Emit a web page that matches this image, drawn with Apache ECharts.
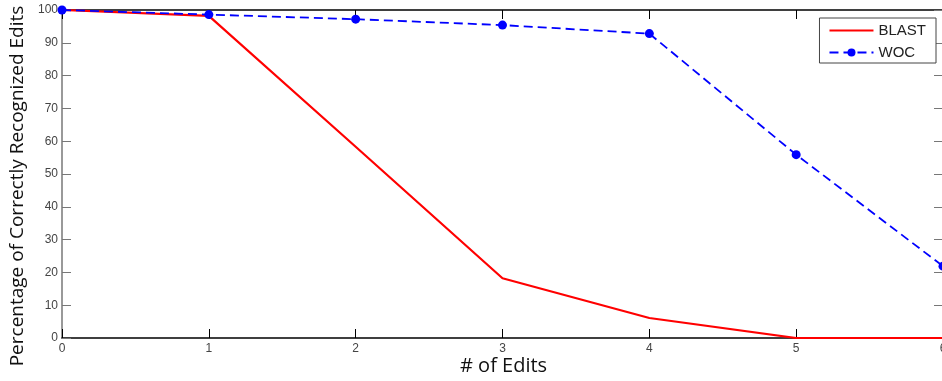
<!DOCTYPE html>
<html><head><meta charset="utf-8">
<script src="https://cdn.jsdelivr.net/npm/echarts@6/dist/echarts.min.js"></script>
<style>html,body{margin:0;padding:0;background:#fff}#c{width:942px;height:381px}</style>
</head><body><div id="c"></div>
<script>
const edits = [0, 1, 2, 3, 4, 5, 6];
const blast = [100, 98.2, 58.3, 18.2, 6.1, 0, 0];
const woc = [100, 98.6, 97.2, 95.4, 92.8, 55.9, 21.9];
const xTitle = '# of Edits';
const yTitle = 'Percentage of Correctly Recognized Edits';

const chart = echarts.init(document.getElementById('c'));
const labelFont = {color: '#444', fontFamily: 'Liberation Sans, Arial', fontSize: 12};
chart.setOption({
  animation: false,
  grid: {left: 62, top: 10, width: 881, height: 328, containLabel: false, outerBoundsMode: 'none'},
  legend: {
    right: 6, top: 18, orient: 'vertical', itemWidth: 44, itemHeight: 10, itemGap: 7,
    padding: [5, 10, 3, 9], borderColor: '#444', borderWidth: 1, backgroundColor: '#fff',
    textStyle: {fontFamily: 'Liberation Sans, Arial', fontSize: 15, color: '#222'},
    data: [{name: 'BLAST', itemStyle: {opacity: 0}}, {name: 'WOC'}]
  },
  graphic: [{
    type: 'text', left: 460, top: 356,
    style: {text: xTitle, font: '20px "Open Sans", "Noto Sans"', fill: '#111'}
  }, {
    type: 'text', x: 8, y: 186, rotation: Math.PI / 2,
    style: {text: yTitle, font: '19px "Open Sans", "Noto Sans"', fill: '#111', textAlign: 'center', textVerticalAlign: 'top'}
  }],
  xAxis: [{
    type: 'value', min: 0, max: 6, interval: 1, position: 'bottom',
    axisLine: {show: true, onZero: false, lineStyle: {color: '#000', width: 1.5}},
    axisTick: {show: true, inside: true, length: 9, lineStyle: {color: '#000'}},
    axisLabel: Object.assign({margin: 5}, labelFont),
    splitLine: {show: false}
  }, {
    type: 'value', min: 0, max: 6, interval: 1, position: 'top',
    axisLine: {show: true, onZero: false, lineStyle: {color: '#000', width: 1.5}},
    axisTick: {show: true, inside: true, length: 9, lineStyle: {color: '#000'}},
    axisLabel: {show: false}, splitLine: {show: false}
  }],
  yAxis: [{
    type: 'value', min: 0, max: 100, interval: 10, position: 'left',
    axisLine: {show: true, onZero: false, lineStyle: {color: '#777', width: 1.5}},
    axisTick: {show: true, inside: true, length: 9, lineStyle: {color: '#777'}},
    axisLabel: Object.assign({margin: 4}, labelFont),
    splitLine: {show: false}
  }, {
    type: 'value', min: 0, max: 100, interval: 10, position: 'right',
    axisLine: {show: true, onZero: false, lineStyle: {color: '#777', width: 1.5}},
    axisTick: {show: true, inside: true, length: 9, lineStyle: {color: '#777'}},
    axisLabel: {show: false}, splitLine: {show: false}
  }],
  series: [{
    name: 'BLAST', type: 'line', data: edits.map((x, i) => [x, blast[i]]),
    showSymbol: false, symbol: 'none', color: '#ff0000',
    lineStyle: {color: '#ff0000', width: 2.2}, z: 3
  }, {
    name: 'WOC', type: 'line', data: edits.map((x, i) => [x, woc[i]]),
    symbol: 'circle', symbolSize: 9, color: '#0000ff',
    itemStyle: {color: '#0000ff'},
    lineStyle: {color: '#0000ff', width: 1.8, type: [9, 5]}, z: 4
  }]
});
</script></body></html>
